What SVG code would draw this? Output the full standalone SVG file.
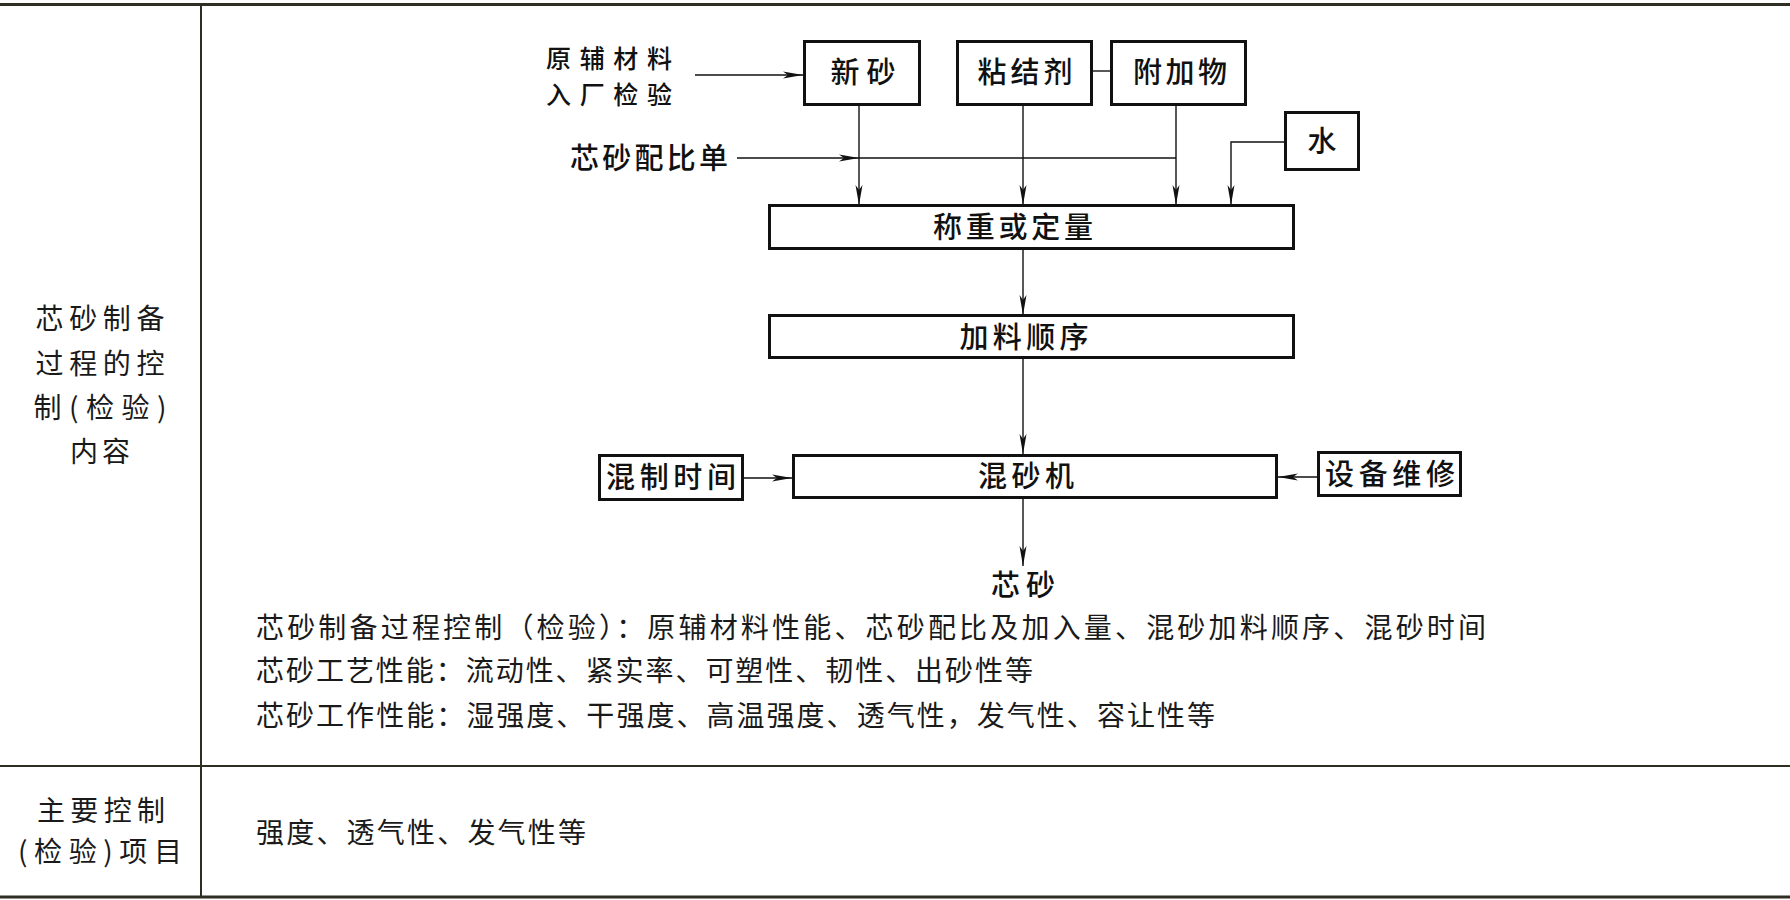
<svg xmlns="http://www.w3.org/2000/svg" width="1790" height="900" viewBox="0 0 1790 900">
<style>
.tbl{stroke:#2e2e22;fill:none}
.box{fill:#fff;stroke:#111;stroke-width:3}
.con{fill:none;stroke:#111;stroke-width:1.4}
.lbl{font-family:"Noto Sans CJK SC",sans-serif;font-size:29px;font-weight:500;fill:#111;text-anchor:middle}
.flw{font-family:"Noto Sans CJK SC",sans-serif;font-size:29px;font-weight:500;fill:#111}
.body{font-family:"Noto Sans CJK SC",sans-serif;font-size:28px;font-weight:400;fill:#1a1a1a}
.col{font-family:"Noto Sans CJK SC",sans-serif;font-size:28px;font-weight:400;fill:#1a1a1a;text-anchor:middle}
</style>
<defs>
<marker id="arr" viewBox="0 0 20 8" refX="20" refY="4" markerWidth="20" markerHeight="8" markerUnits="userSpaceOnUse" orient="auto">
<path d="M0,0.5 L20,4 L0,7.5 L5,4 Z" fill="#111"/>
</marker>
</defs>
<rect width="1790" height="900" fill="#fff"/>
<g id="table">
<line class="tbl" x1="0" y1="4.5" x2="1790" y2="4.5" stroke-width="3"/>
<line class="tbl" x1="0" y1="766" x2="1790" y2="766" stroke-width="2"/>
<line class="tbl" x1="0" y1="897" x2="1790" y2="897" stroke-width="3"/>
<line class="tbl" x1="201" y1="4" x2="201" y2="898" stroke-width="2"/>
<text class="col" x="100" y="329" textLength="129">芯砂制备</text>
<text class="col" x="100" y="374" textLength="129">过程的控</text>
<text class="col" x="100" y="418" textLength="133">制(检验)</text>
<text class="col" x="100" y="462" textLength="60">内容</text>
<text class="col" x="101" y="821" textLength="128">主要控制</text>
<text class="col" x="100" y="862" textLength="164">(检验)项目</text>
<text class="body" x="256" y="638" textLength="1230">芯砂制备过程控制（检验）：原辅材料性能、芯砂配比及加入量、混砂加料顺序、混砂时间</text>
<text class="body" x="256" y="681" textLength="777">芯砂工艺性能：流动性、紧实率、可塑性、韧性、出砂性等</text>
<text class="body" x="256" y="726" textLength="959">芯砂工作性能：湿强度、干强度、高温强度、透气性，发气性、容让性等</text>
<text class="body" x="256" y="843" textLength="330">强度、透气性、发气性等</text>
</g>
<g id="connectors">
<path class="con" d="M695,75 H803" marker-end="url(#arr)"/>
<path class="con" d="M737,158 H859" marker-end="url(#arr)"/>
<path class="con" d="M859,158 H1176"/>
<path class="con" d="M859,106 V205" marker-end="url(#arr)"/>
<path class="con" d="M1023,106 V205" marker-end="url(#arr)"/>
<path class="con" d="M1176,106 V205" marker-end="url(#arr)"/>
<path class="con" d="M1284,142 H1231 V205" marker-end="url(#arr)"/>
<path class="con" d="M1093,71 H1110"/>
<path class="con" d="M1023,250 V315" marker-end="url(#arr)"/>
<path class="con" d="M1023,359 V454" marker-end="url(#arr)"/>
<path class="con" d="M744,478 H792" marker-end="url(#arr)"/>
<path class="con" d="M1317,477 H1278" marker-end="url(#arr)"/>
<path class="con" d="M1023,499 V566" marker-end="url(#arr)"/>
</g>
<g id="n-yuanfu">
<text class="flw" style="font-size:25px"><tspan x="546" y="68" textLength="126">原辅材料</tspan><tspan x="546" y="104" textLength="126">入厂检验</tspan></text>
</g>
<g id="n-peibidan">
<text class="flw" x="570" y="169" textLength="158">芯砂配比单</text>
</g>
<g id="n-xinsha">
<rect class="box" x="804.5" y="41.5" width="115" height="63"/>
<text class="lbl" x="863" y="83" textLength="65">新砂</text>
</g>
<g id="n-zhanjieji">
<rect class="box" x="957.5" y="41.5" width="134" height="63"/>
<text class="lbl" x="1025" y="83" textLength="95">粘结剂</text>
</g>
<g id="n-fujiawu">
<rect class="box" x="1111.5" y="41.5" width="134" height="63"/>
<text class="lbl" x="1180" y="83" textLength="94">附加物</text>
</g>
<g id="n-shui">
<rect class="box" x="1285.5" y="112.5" width="73" height="57"/>
<text class="lbl" x="1322" y="152">水</text>
</g>
<g id="n-chengzhong">
<rect class="box" x="769.5" y="205.5" width="524" height="43"/>
<text class="lbl" x="1013" y="238" textLength="160">称重或定量</text>
</g>
<g id="n-jialiao">
<rect class="box" x="769.5" y="315.5" width="524" height="42"/>
<text class="lbl" x="1024" y="348" textLength="129">加料顺序</text>
</g>
<g id="n-hunshaji">
<rect class="box" x="793.5" y="455.5" width="483" height="42"/>
<text class="lbl" x="1026" y="487" textLength="96">混砂机</text>
</g>
<g id="n-hunzhi">
<rect class="box" x="599.5" y="455.5" width="143" height="44"/>
<text class="lbl" x="671" y="488" textLength="130">混制时间</text>
</g>
<g id="n-shebei">
<rect class="box" x="1318.5" y="452.5" width="142" height="43"/>
<text class="lbl" x="1390" y="485" textLength="130">设备维修</text>
</g>
<g id="n-xinsha-out">
<text class="lbl" x="1023" y="596" textLength="64">芯砂</text>
</g>
</svg>
